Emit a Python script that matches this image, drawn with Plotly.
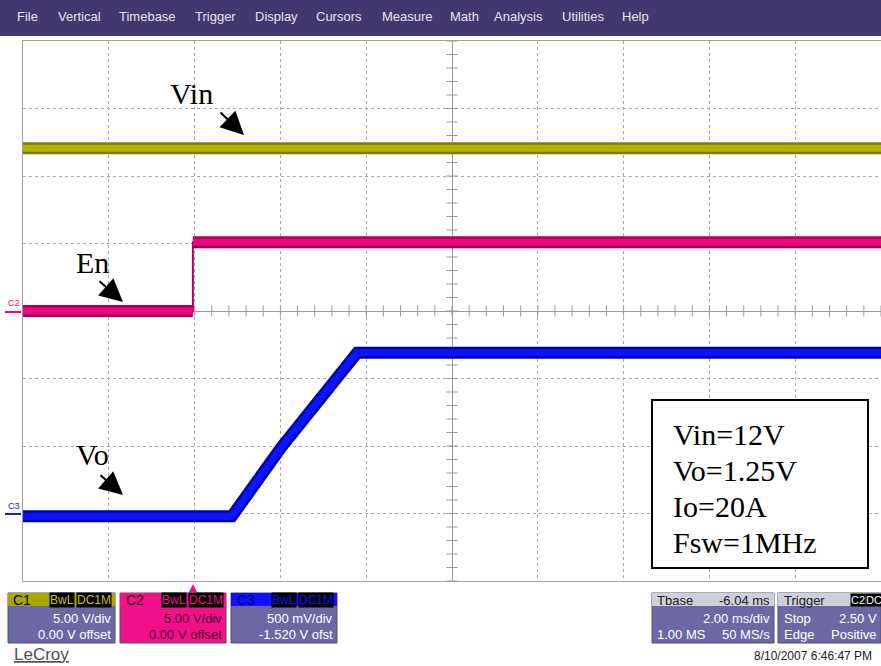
import numpy as np
import plotly.graph_objects as go

# ---------------- data ----------------
# time in ms relative to screen centre (2 ms/div, 10 div), trigger at -6.04 ms
vin_t = [-10.0, 10.0]
vin_v = [12.05, 12.05]              # C1, 5 V/div, 0 V offset

en_t = [-10.0, -6.04, -6.04, 10.0]
en_v = [0.0, 0.0, 5.1, 5.1]         # C2, 5 V/div, 0 V offset

vo_t = [-10.0, -5.13, -3.98, -2.21, 10.0]
vo_v = [0.0, 0.0, 0.51, 1.21, 1.21]  # C3, 0.5 V/div, -1.52 V offset

ch_scale = {"C1": 5.0, "C2": 5.0, "C3": 0.5}
ch_offset = {"C1": 0.0, "C2": 0.0, "C3": -1.52}

menu_items = ["File", "Vertical", "Timebase", "Trigger", "Display", "Cursors",
              "Measure", "Math", "Analysis", "Utilities", "Help"]
menu_x = [15, 56, 117, 193, 253, 314, 380, 448, 492, 560, 620]

info_lines = ["Vin=12V", "Vo=1.25V", "Io=20A", "Fsw=1MHz"]


def to_div(v, ch):
    return [(x + ch_offset[ch]) / ch_scale[ch] for x in v]


# ---------------- geometry helpers ----------------
W, H = 881, 666
L, T, R, B = 23, 41, 881, 581
PW, PH = R - L, B - T


def xp(px):
    return (px - L) / PW


def yp(py):
    return (B - py) / PH


fig = go.Figure()

# centre-axis tick marks (graticule decoration)
tx = np.arange(-10, 10.001, 0.4)
ty = np.arange(-4, 4.001, 0.2)
fig.add_trace(go.Scatter(x=tx, y=np.zeros_like(tx), mode="markers",
                         marker=dict(symbol="line-ns", size=8, line=dict(width=1, color="#9a9a9a")),
                         hoverinfo="skip", showlegend=False))
fig.add_trace(go.Scatter(x=np.zeros_like(ty), y=ty, mode="markers",
                         marker=dict(symbol="line-ew", size=8, line=dict(width=1, color="#9a9a9a")),
                         hoverinfo="skip", showlegend=False))

# Vin (C1)
y1 = to_div(vin_v, "C1")
fig.add_trace(go.Scatter(x=vin_t, y=y1, mode="lines", line=dict(color="#7e7e06", width=12),
                         hoverinfo="skip", showlegend=False))
fig.add_trace(go.Scatter(x=vin_t, y=y1, mode="lines", line=dict(color="#b2b000", width=7),
                         hoverinfo="skip", showlegend=False))

# En (C2): thin edge + thick flat bands
y2 = to_div(en_v, "C2")
fig.add_trace(go.Scatter(x=en_t, y=y2, mode="lines", line=dict(color="#b0005c", width=2),
                         hoverinfo="skip", showlegend=False))
band_t = en_t[:2] + [None] + en_t[2:]
band_y = y2[:2] + [None] + y2[2:]
fig.add_trace(go.Scatter(x=band_t, y=band_y, mode="lines", line=dict(color="#a8005a", width=12),
                         hoverinfo="skip", showlegend=False, connectgaps=False))
fig.add_trace(go.Scatter(x=band_t, y=band_y, mode="lines", line=dict(color="#ec0882", width=7),
                         hoverinfo="skip", showlegend=False, connectgaps=False))

# Vo (C3)
y3 = to_div(vo_v, "C3")
fig.add_trace(go.Scatter(x=vo_t, y=y3, mode="lines", line=dict(color="#0000a8", width=12),
                         hoverinfo="skip", showlegend=False))
fig.add_trace(go.Scatter(x=vo_t, y=y3, mode="lines", line=dict(color="#0a14ff", width=7),
                         hoverinfo="skip", showlegend=False))

shapes = []
ann = []

# ---- menu bar ----
shapes.append(dict(type="rect", xref="paper", yref="paper", x0=xp(0), x1=xp(W), y0=yp(36), y1=yp(0),
                   fillcolor="#43376f", line=dict(width=0), layer="above"))
for name, x in zip(menu_items, menu_x):
    ann.append(dict(text=name, xref="paper", yref="paper", x=xp(x), y=yp(17), xanchor="left",
                    yanchor="middle", showarrow=False,
                    font=dict(family="Liberation Sans, Arial", size=13, color="#e4e4ee")))

# ---- channel markers on left ----
shapes.append(dict(type="line", xref="paper", yref="paper", x0=xp(5), x1=xp(21), y0=yp(312), y1=yp(312),
                   line=dict(color="#e0107f", width=2)))
ann.append(dict(text="C2", xref="paper", yref="paper", x=xp(6), y=yp(303), xanchor="left", yanchor="middle",
                showarrow=False, font=dict(family="Liberation Sans, Arial", size=9, color="#e0107f")))
shapes.append(dict(type="line", xref="paper", yref="paper", x0=xp(5), x1=xp(21), y0=yp(514), y1=yp(514),
                   line=dict(color="#1020e0", width=2)))
ann.append(dict(text="C3", xref="paper", yref="paper", x=xp(6), y=yp(506), xanchor="left", yanchor="middle",
                showarrow=False, font=dict(family="Liberation Sans, Arial", size=9, color="#1020e0")))

# ---- trace labels with arrows ----
serif = "Liberation Serif, Times New Roman"
for txt_, lx, ly in [("Vin", 168, 93), ("En", 74, 262), ("Vo", 74, 455)]:
    ann.append(dict(text=txt_, xref="paper", yref="paper", x=xp(lx), y=yp(ly), xanchor="left",
                    yanchor="middle", showarrow=False, font=dict(family=serif, size=30, color="black")))
for hx, hy, tx_, ty_ in [(244, 135, 219, 111), (123, 302, 98, 280), (123, 495, 99, 474)]:
    ann.append(dict(text="", xref="paper", yref="paper", x=xp(hx), y=yp(hy), ax=tx_ - hx, ay=ty_ - hy,
                    axref="pixel", ayref="pixel", showarrow=True, arrowhead=2, arrowsize=2.3,
                    arrowwidth=2, arrowcolor="black"))

# ---- info box ----
shapes.append(dict(type="rect", xref="paper", yref="paper", x0=xp(652), x1=xp(868), y0=yp(568), y1=yp(400),
                   fillcolor="white", line=dict(color="black", width=2), layer="above"))
for i, line in enumerate(info_lines):
    ann.append(dict(text=line, xref="paper", yref="paper", x=xp(671), y=yp(434 + 36 * i), xanchor="left",
                    yanchor="middle", showarrow=False, font=dict(family=serif, size=30, color="black")))

# ---- bottom info panel ----
sans = "Liberation Sans, Arial"
body = "#6c68a6"


def box(x0, x1, head_col, body_col):
    shapes.append(dict(type="rect", xref="paper", yref="paper", x0=xp(x0), x1=xp(x1), y0=yp(643), y1=yp(593),
                       fillcolor=body_col, line=dict(color="#505070", width=1), layer="above"))
    shapes.append(dict(type="rect", xref="paper", yref="paper", x0=xp(x0), x1=xp(x1), y0=yp(606), y1=yp(593),
                       fillcolor=head_col, line=dict(width=0), layer="above"))


def txt(s, x, y, anchor, color, size=13, bg=None):
    d = dict(text=s, xref="paper", yref="paper", x=xp(x), y=yp(y), xanchor=anchor, yanchor="middle",
             showarrow=False, font=dict(family=sans, size=size, color=color))
    if bg:
        d.update(bgcolor=bg, borderpad=0)
    ann.append(d)


# C1
box(8, 115, "#aaa800", body)
txt("C1", 11, 600, "left", "black", 14)
txt("BwL", 49, 600, "left", "#c8c400", 12, "black")
txt("DC1M", 76, 600, "left", "#c8c400", 12, "black")
txt("5.00 V/div", 113, 618, "right", "white")
txt("0.00 V offset", 113, 634, "right", "white")
# C2
box(120, 226, "#f0108a", "#f0108a")
txt("C2", 124, 600, "left", "#300018", 14)
txt("BwL", 161, 600, "left", "#f0108a", 12, "black")
txt("DC1M", 188, 600, "left", "#f0108a", 12, "black")
txt("5.00 V/div", 224, 618, "right", "#500028")
txt("0.00 V offset", 224, 634, "right", "#500028")
# C3
box(231, 337, "#1010ff", body)
txt("C3", 235, 600, "left", "#000060", 14)
txt("BwL", 271, 600, "left", "#1010ff", 12, "black")
txt("DC1M", 298, 600, "left", "#1010ff", 12, "black")
txt("500 mV/div", 335, 618, "right", "white")
txt("-1.520 V ofst", 335, 634, "right", "white")
# trigger position marker
shapes.append(dict(type="path", xref="paper", yref="paper",
                   path=f"M {xp(189)} {yp(592)} L {xp(197)} {yp(592)} L {xp(193)} {yp(584)} Z",
                   fillcolor="#f0108a", line=dict(width=0)))
# Tbase
box(652, 774, "#cfcfd8", body)
txt("Tbase", 655, 600, "left", "#202020")
txt("-6.04 ms", 772, 600, "right", "#202020")
txt("2.00 ms/div", 772, 618, "right", "white")
txt("1.00 MS", 655, 634, "left", "white")
txt("50 MS/s", 772, 634, "right", "white")
# Trigger
box(778, 881, "#cfcfd8", body)
txt("Trigger", 782, 600, "left", "#202020")
txt("C2", 850, 600, "left", "white", 11, "black")
txt("DC", 865, 600, "left", "white", 11, "black")
txt("Stop", 782, 618, "left", "white")
txt("2.50 V", 879, 618, "right", "white")
txt("Edge", 782, 634, "left", "white")
txt("Positive", 879, 634, "right", "white")

# LeCroy + date
ann.append(dict(text="<u>LeCroy</u>", xref="paper", yref="paper", x=xp(12), y=yp(654), xanchor="left",
                yanchor="middle", showarrow=False, font=dict(family=sans, size=17, color="#505050")))
txt("8/10/2007 6:46:47 PM", 874, 656, "right", "#202020", 12)

fig.update_layout(
    width=W, height=H, margin=dict(l=L, r=W - R, t=T, b=H - B),
    paper_bgcolor="white", plot_bgcolor="white", showlegend=False,
    shapes=shapes, annotations=ann,
    xaxis=dict(range=[-10, 10], dtick=2, tick0=-10, showticklabels=False, ticks="",
               showgrid=True, gridcolor="#a8a8a8", griddash="dot", gridwidth=1,
               zeroline=True, zerolinecolor="#9a9a9a", zerolinewidth=1,
               showline=True, linecolor="#a0a0a0", mirror=True, fixedrange=True),
    yaxis=dict(range=[-4, 4], dtick=1, tick0=-4, showticklabels=False, ticks="",
               showgrid=True, gridcolor="#a8a8a8", griddash="dot", gridwidth=1,
               zeroline=True, zerolinecolor="#9a9a9a", zerolinewidth=1,
               showline=True, linecolor="#a0a0a0", mirror=True, fixedrange=True),
)

fig.write_html("out.html", config={"displayModeBar": False},
               post_script="document.body.style.margin='0';document.body.style.overflow='hidden';")
